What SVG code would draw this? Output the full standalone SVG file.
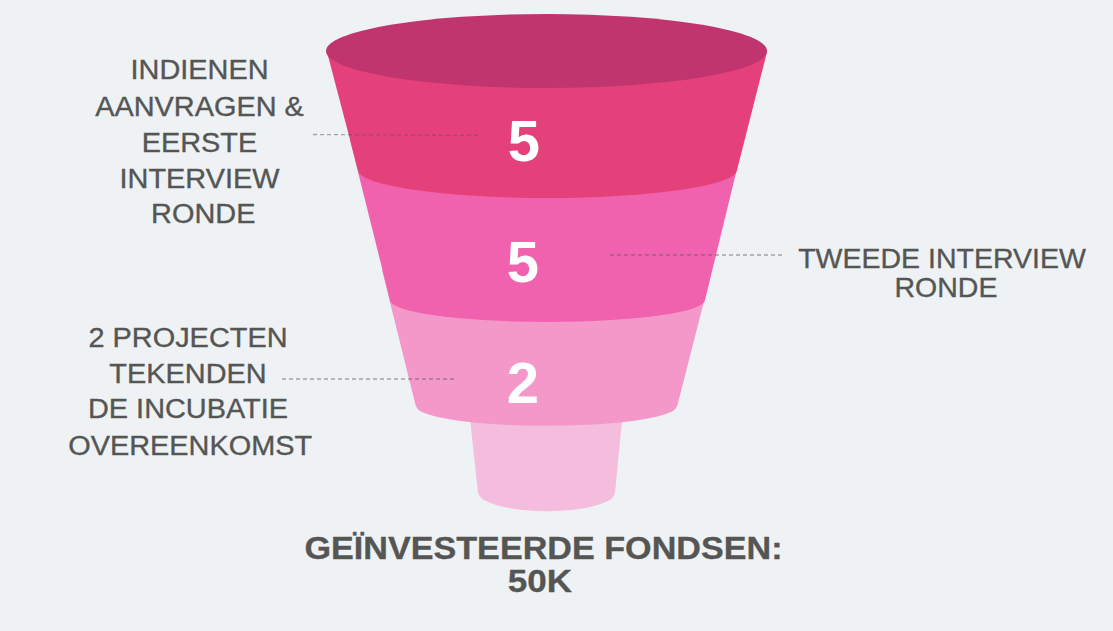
<svg xmlns="http://www.w3.org/2000/svg" width="1113" height="631" viewBox="0 0 1113 631">
<style>
.lbl{font-family:"Liberation Sans",Arial,sans-serif;font-size:27px;fill:#555654;stroke:#555654;stroke-width:0.35;text-anchor:middle}
.num{font-family:"Liberation Sans",Arial,sans-serif;font-size:58px;font-weight:bold;fill:#ffffff;text-anchor:middle}
.ttl{font-family:"Liberation Sans",Arial,sans-serif;font-size:30.5px;font-weight:bold;fill:#555654;stroke:#555654;stroke-width:0.3;text-anchor:middle}
.dash{stroke:#555;stroke-opacity:0.5;stroke-width:1.3;stroke-dasharray:4 3;fill:none}
</style>
<rect width="1113" height="631" fill="#EEF2F5"/>
<g id="stage4">
<path d="M468,400 L478,493 Q480,498 486,501 A70 20 0 0 0 608,501 Q614,498 615,493 L624,400 Z" fill="#F5BDDD"/>
</g>
<g id="stage3">
<path d="M382,270 L415,403 Q416,408 420,411 A131 20 0 0 0 673,411 Q677,408 678,403 L712,270 Z" fill="#F498C9"/>
<text class="num" x="523" y="403">2</text>
</g>
<g id="stage2">
<path d="M350,140 L390,300 A157.5 22 0 0 0 705,300 L744,140 Z" fill="#F062AD"/>
<text class="num" x="523" y="282">5</text>
</g>
<g id="stage1">
<path d="M327,52 L358,170 A189.5 28 0 0 0 737,170 L767,52 Z" fill="#E4417A"/>
<ellipse cx="546.5" cy="51" rx="220.5" ry="37" fill="#C0356E"/>
<text class="num" x="524" y="161">5</text>
</g>
<g id="connectors">
<line class="dash" x1="313" y1="134.5" x2="480" y2="135.5"/>
<line class="dash" x1="610" y1="255" x2="782" y2="255"/>
<line class="dash" x1="282" y1="379" x2="455" y2="379"/>
</g>
<g id="label1" transform="translate(199.5,0) scale(1.07,1)">
<text class="lbl" x="0" y="79">INDIENEN</text>
<text class="lbl" x="0" y="116">AANVRAGEN &amp;</text>
<text class="lbl" x="0" y="152">EERSTE</text>
<text class="lbl" x="0" y="188">INTERVIEW</text>
<text class="lbl" x="3.5" y="223">RONDE</text>
</g>
<g id="label2">
<text class="lbl" style="font-size:28.5px" x="942" y="268">TWEEDE INTERVIEW</text>
<text class="lbl" style="font-size:28.5px" x="946" y="297">RONDE</text>
</g>
<g id="label3" transform="translate(188,0) scale(1.07,1)">
<text class="lbl" x="0" y="347">2 PROJECTEN</text>
<text class="lbl" x="0" y="383">TEKENDEN</text>
<text class="lbl" x="0" y="418">DE INCUBATIE</text>
<text class="lbl" x="2" y="455">OVEREENKOMST</text>
</g>
<g id="total">
<g transform="translate(543.5,0) scale(1.12,1)"><text class="ttl" x="0" y="559">GEÏNVESTEERDE FONDSEN:</text></g>
<g transform="translate(540,0) scale(1.15,1)"><text class="ttl" x="0" y="592">50K</text></g>
</g>
</svg>
